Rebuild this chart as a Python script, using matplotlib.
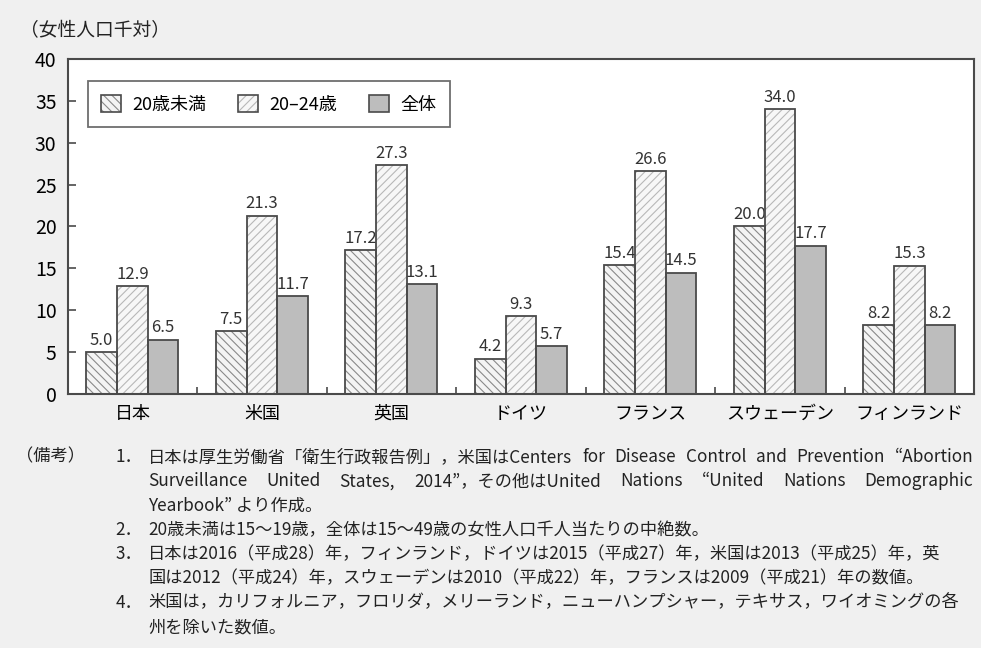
import numpy as np
import matplotlib.pyplot as plt
from matplotlib.patches import Patch

plt.rcParams['font.family'] = ['Noto Sans CJK JP', 'DejaVu Sans']
plt.rcParams['hatch.linewidth'] = 0.8

# データ
countries = ["日本", "米国", "英国", "ドイツ", "フランス", "スウェーデン", "フィンランド"]
under20 = [5.0, 7.5, 17.2, 4.2, 15.4, 20.0, 8.2]
age20_24 = [12.9, 21.3, 27.3, 9.3, 26.6, 34.0, 15.3]
total = [6.5, 11.7, 13.1, 5.7, 14.5, 17.7, 8.2]
series_names = ["20歳未満", "20\u201324歳", "全体"]

# (見出し, 番号, 本文, 両端揃え)
notes = [
    ("（備考）", "1．", "日本は厚生労働省「衛生行政報告例」，米国はCenters for Disease Control and Prevention “Abortion", True),
    ("", "", "Surveillance United States, 2014”，その他はUnited Nations “United Nations Demographic", True),
    ("", "", "Yearbook” より作成。", False),
    ("", "2．", "20歳未満は15～19歳，全体は15～49歳の女性人口千人当たりの中絶数。", False),
    ("", "3．", "日本は2016（平成28）年，フィンランド，ドイツは2015（平成27）年，米国は2013（平成25）年，英", False),
    ("", "", "国は2012（平成24）年，スウェーデンは2010（平成22）年，フランスは2009（平成21）年の数値。", False),
    ("", "4．", "米国は，カリフォルニア，フロリダ，メリーランド，ニューハンプシャー，テキサス，ワイオミングの各", False),
    ("", "", "州を除いた数値。", False),
]

bg = "#f0f0f0"
edge = "#4a4a4a"
styles = [
    dict(face="#f4f4f4", hatch="\\\\\\\\", hcolor="#8a8a8a"),
    dict(face="#f7f7f7", hatch="////", hcolor="#b8b8b8"),
    dict(face="#bdbdbd", hatch="", hcolor="#bdbdbd"),
]

fig = plt.figure(figsize=(9.81, 6.48), dpi=100, facecolor=bg)
ax = fig.add_axes([0.069, 0.392, 0.924, 0.517])
ax.set_facecolor("white")

x = np.arange(len(countries))
w = 0.237
handles = []
for i, (vals, st) in enumerate(zip([under20, age20_24, total], styles)):
    pos = x + (i - 1) * w
    ax.bar(pos, vals, w, color=st["face"], edgecolor=st["hcolor"],
           hatch=st["hatch"], linewidth=0, zorder=2)
    ax.bar(pos, vals, w, fill=False, edgecolor=edge, linewidth=1.3, zorder=3)
    for px, v in zip(pos, vals):
        ax.text(px, v + 0.4, f"{v:.1f}", ha="center", va="bottom",
                fontsize=12, color="#333333")
    h1 = Patch(facecolor=st["face"], edgecolor=st["hcolor"], hatch=st["hatch"], linewidth=0)
    h2 = Patch(fill=False, edgecolor=edge, linewidth=1.2)
    handles.append((h1, h2))

ax.set_xlim(-0.5, len(countries) - 0.5)
ax.set_ylim(0, 40)
ax.set_yticks(range(0, 41, 5))
ax.set_xticks(x)
ax.set_xticklabels(countries, fontsize=13)
ax.set_xticks(x[:-1] + 0.5, minor=True)
ax.tick_params(axis="x", which="major", length=0, pad=8)
ax.tick_params(axis="x", which="minor", direction="in", length=5, width=1.2, color=edge)
ax.tick_params(axis="y", direction="in", length=6, width=1.2, color=edge, labelsize=14, pad=8)
for s in ax.spines.values():
    s.set_color(edge)
    s.set_linewidth(1.5)

leg = ax.legend(handles, series_names, loc="upper left", ncol=3, fontsize=13,
                bbox_to_anchor=(0.012, 0.96), frameon=True, fancybox=False,
                edgecolor=edge, handlelength=1.1, handleheight=1.1,
                columnspacing=1.8, handletextpad=0.6, borderpad=0.75)
leg.get_frame().set_linewidth(1.3)

fig.text(0.02, 0.952, "（女性人口千対）", fontsize=13.5, ha="left", va="center", color="#222222")

# 備考
fs = 12.4
x_text = 0.151
x_right = 0.992
y0 = 0.295
dy = 0.0375
renderer = fig.canvas.get_renderer()
for k, (a, b, c, justify) in enumerate(notes):
    yy = y0 - k * dy
    if a:
        fig.text(0.016, yy, a, fontsize=fs, va="center", color="#222222")
    if b:
        fig.text(0.118, yy, b, fontsize=fs, va="center", color="#222222")
    if not justify:
        fig.text(x_text, yy, c, fontsize=fs, va="center", color="#222222")
        continue
    words = c.split(" ")
    objs = [fig.text(0, yy, wd, fontsize=fs, va="center", color="#222222") for wd in words]
    widths = [o.get_window_extent(renderer).width / fig.bbox.width for o in objs]
    gap = (x_right - x_text - sum(widths)) / max(len(words) - 1, 1)
    xx = x_text
    for o, wd in zip(objs, widths):
        o.set_x(xx)
        xx += wd + gap

fig.savefig("out.png", dpi=100, facecolor=bg)
